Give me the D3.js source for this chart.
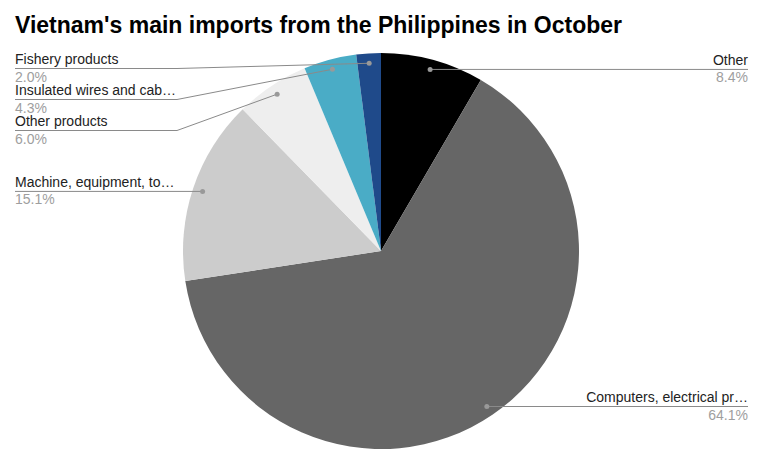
<!DOCTYPE html>
<html>
<head>
<meta charset="utf-8">
<script src="https://cdn.jsdelivr.net/npm/d3@7"></script>
<style>
  body { margin: 0; background: #fff; }
  svg { font-family: "Liberation Sans", Arial, sans-serif; }
</style>
</head>
<body>
<div id="chart"></div>
<script>
const width = 761
const height = 460

// data, clockwise from 12 o'clock
const labels = ['Other', 'Computers, electrical pr\u2026', 'Machine, equipment, to\u2026', 'Other products', 'Insulated wires and cab\u2026', 'Fishery products']
const shares = [8.4, 64.1, 15.1, 6.0, 4.3, 2.0]
const colors = ['#000000', '#666666', '#cccccc', '#eeeeee', '#4aacc6', '#1f4a8a']

const cx = 381, cy = 251, radius = 198

const svg = d3.select('#chart').append('svg')
    .attr('width', width)
    .attr('height', height)

svg.append('text')
    .attr('x', 15)
    .attr('y', 33)
    .attr('font-size', 23)
    .attr('font-weight', 'bold')
    .attr('fill', '#000')
    .text("Vietnam's main imports from the Philippines in October")

const pie = d3.pie().sort(null).value(d => d.value)
const arc = d3.arc().innerRadius(0).outerRadius(radius)
const dotArc = d3.arc().innerRadius(radius * 0.95).outerRadius(radius * 0.95)

const data = labels.map((l, i) => ({ label: l, value: shares[i], color: colors[i] }))
const arcs = pie(data)

const g = svg.append('g').attr('transform', `translate(${cx},${cy})`)

g.selectAll('path')
    .data(arcs)
    .enter()
    .append('path')
    .attr('d', arc)
    .attr('fill', d => d.data.color)

// label layout: left / right columns, stacked top-down
arcs.forEach(a => {
    const p = dotArc.centroid(a)
    a.dotX = cx + p[0]
    a.dotY = cy + p[1]
    a.left = (a.startAngle + a.endAngle) / 2 > Math.PI
})

const layout = side => {
    const list = arcs.filter(a => a.left === side).sort((a, b) => a.dotY - b.dotY)
    let prev = -Infinity
    list.forEach(a => {
        a.lineY = Math.max(a.dotY, prev + 31, 68.5)
        prev = a.lineY
    })
}
layout(true)
layout(false)

const labelG = svg.append('g')

arcs.forEach(a => {
    const path = a.left
        ? `M15,${a.lineY}H${Math.min(177, a.dotX)}L${a.dotX},${a.dotY}`
        : `M748,${a.lineY}H${Math.max(a.dotX, 600)}L${a.dotX},${a.dotY}`
    labelG.append('path')
        .attr('d', path)
        .attr('fill', 'none')
        .attr('stroke', '#8a8a8a')
        .attr('stroke-width', 1)
    labelG.append('circle')
        .attr('cx', a.dotX)
        .attr('cy', a.dotY)
        .attr('r', 2.5)
        .attr('fill', '#999')

    const tx = a.left ? 15 : 748
    const anchor = a.left ? 'start' : 'end'
    labelG.append('text')
        .attr('x', tx)
        .attr('y', a.lineY - 4.5)
        .attr('text-anchor', anchor)
        .attr('font-size', 14)
        .attr('fill', '#222')
        .text(a.data.label)
    labelG.append('text')
        .attr('x', tx)
        .attr('y', a.lineY + 13)
        .attr('text-anchor', anchor)
        .attr('font-size', 14)
        .attr('fill', '#9e9e9e')
        .text(a.data.value.toFixed(1) + '%')
})
</script>
</body>
</html>
